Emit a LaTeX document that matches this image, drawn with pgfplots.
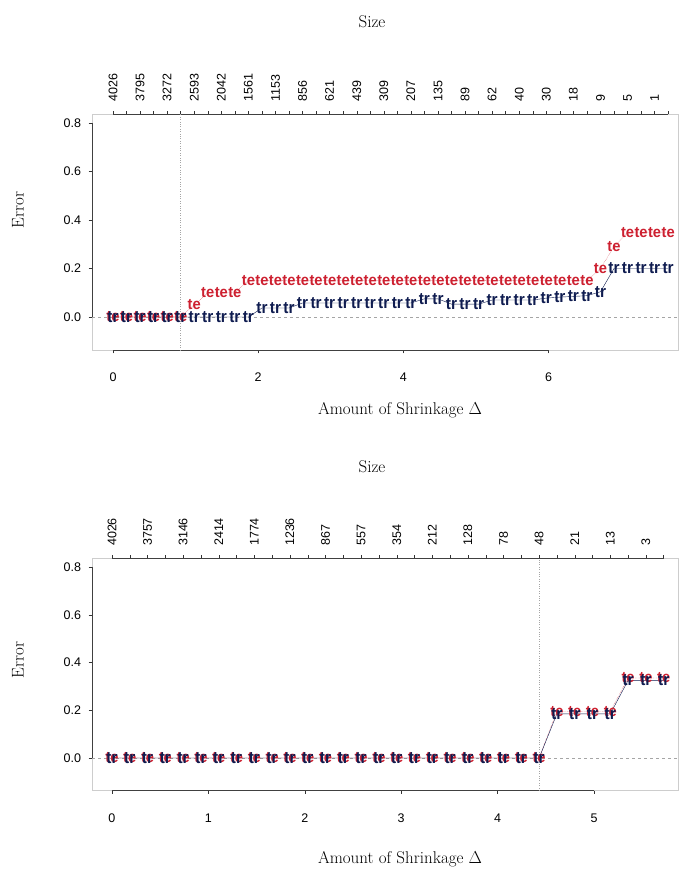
\documentclass[border=0pt]{standalone}
\usepackage{fontspec}
\setsansfont{Liberation Sans}
\usepackage{pgfplots}
\pgfplotsset{compat=1.18}
\usepackage{pgfplotstable}

\definecolor{teRed}{RGB}{205,32,48}
\definecolor{trBlue}{RGB}{15,28,80}
\definecolor{boxgray}{RGB}{205,205,205}
\definecolor{refgray}{RGB}{165,165,165}

\newcommand\tickfont{\fontsize{12.5}{12.5}\sffamily}
\newcommand\labfont{\fontsize{17}{20}\selectfont}
\newcommand\markfont{\fontsize{14}{14}\sffamily\bfseries}

% cross-validated error along the shrinkage path: test (te) and training (tr)
\pgfplotstableread{
d      te    tr
0      0     0
0.1865 0     0
0.373  0     0
0.5595 0     0
0.746  0     0
0.9325 0     0
1.119  0.05  0
1.3055 0.10  0
1.492  0.10  0
1.6785 0.10  0
1.865  0.15  0
2.0515 0.15  0.037
2.238  0.15  0.037
2.4245 0.15  0.037
2.611  0.15  0.058
2.7975 0.15  0.058
2.984  0.15  0.058
3.1705 0.15  0.058
3.357  0.15  0.058
3.5435 0.15  0.058
3.73   0.15  0.058
3.9165 0.15  0.058
4.103  0.15  0.058
4.2895 0.15  0.075
4.476  0.15  0.075
4.6625 0.15  0.053
4.849  0.15  0.053
5.0355 0.15  0.053
5.222  0.15  0.070
5.4085 0.15  0.070
5.595  0.15  0.070
5.7815 0.15  0.070
5.968  0.15  0.078
6.1545 0.15  0.082
6.341  0.15  0.085
6.5275 0.15  0.088
6.714  0.20  0.104
6.9005 0.29  0.20
7.087  0.35  0.20
7.2735 0.35  0.20
7.46   0.35  0.20
7.6465 0.35  0.20
}\cvtop

\pgfplotstableread{
d      te     tr
0      0      0
0.1846 0      0
0.3692 0      0
0.5538 0      0
0.7384 0      0
0.923  0      0
1.1076 0      0
1.2922 0      0
1.4768 0      0
1.6614 0      0
1.846  0      0
2.0306 0      0
2.2152 0      0
2.3998 0      0
2.5844 0      0
2.769  0      0
2.9536 0      0
3.1382 0      0
3.3228 0      0
3.5074 0      0
3.692  0      0
3.8766 0      0
4.0612 0      0
4.2458 0      0
4.4304 0      0
4.615  0.195  0.185
4.7996 0.195  0.185
4.9842 0.195  0.185
5.1688 0.195  0.185
5.3534 0.335  0.325
5.538  0.335  0.325
5.7226 0.335  0.325
}\cvbot

\pgfplotsset{
  panel/.style={
    scale only axis, width=586pt,
    ymin=-0.136, ymax=0.836,
    clip=false,
    axis line style={boxgray},
    tick style={black!80, thin},
    tick align=outside,
    major tick length=3.5pt,
    minor tick length=2pt,
    /pgf/number format/assume math mode=true,
    ticklabel style={font=\tickfont},
    xtick pos=bottom, ytick pos=left,
    ytick={0,0.2,0.4,0.6,0.8},
    yticklabels={0.0,0.2,0.4,0.6,0.8},
    yticklabel style={xshift=-4pt},
    xticklabel style={yshift=-16pt},
  },
  sizeaxis/.style={
    scale only axis, width=586pt,
    ymin=-0.136, ymax=0.836,
    axis x line*=top, axis y line=none,
    axis line style={draw=none},
    tick style={black!80, thin},
    tick align=outside,
    major tick length=3pt,
    minor tick length=3pt,
    xticklabel style={font=\tickfont, rotate=90, anchor=west},
    xticklabel shift=6pt,
  },
  temarks/.style={teRed, densely dotted, thin, mark=none,
    nodes near coords={\scalebox{1.05}[1.1]{te}},
    nodes near coords align=center,
    every node near coord/.append style={font=\markfont, text=teRed, inner sep=0pt, solid}},
  trmarks/.style={trBlue, thin, mark=none,
    nodes near coords={\scalebox{1.1}[1.2]{tr}},
    nodes near coords align=center,
    every node near coord/.append style={font=\markfont, text=trBlue, inner sep=0pt}},
}

\begin{document}
\begin{tikzpicture}
\useasboundingbox (0pt,0pt) rectangle (680pt,873pt);

% ---------------- upper panel ----------------
\begin{axis}[panel, at={(92pt,523pt)}, anchor=south west, height=235.7pt,
  xmin=-0.289, xmax=7.782, xtick={0,2,4,6}]
  \draw[black!75] (axis cs:0,-0.136) -- (axis cs:6,-0.136);
  \draw[black!75] (axis cs:-0.289,0) -- (axis cs:-0.289,0.8);
  \draw[black!75] (axis cs:0,0.836) -- (axis cs:7.6465,0.836);
  \addplot[refgray, dashed, thin] coordinates {(-0.289,0) (7.782,0)};
  \addplot[refgray, dotted, thin] coordinates {(0.9325,-0.136) (0.9325,0.836)};
  \addplot[temarks] table[x=d, y=te] {\cvtop};
  \addplot[trmarks] table[x=d, y=tr] {\cvtop};
\end{axis}
\begin{axis}[sizeaxis, at={(92pt,523pt)}, anchor=south west, height=235.7pt,
  xmin=-0.289, xmax=7.782,
  xtick={0,0.373,0.746,1.119,1.492,1.865,2.238,2.611,2.984,3.357,3.73,4.103,4.476,4.849,5.222,5.595,5.968,6.341,6.714,7.087,7.46},
  xticklabels={4026,3795,3272,2593,2042,1561,1153,856,621,439,309,207,135,89,62,40,30,18,9,5,1},
  minor xtick={0.1865,0.5595,0.9325,1.3055,1.6785,2.0515,2.4245,2.7975,3.1705,3.5435,3.9165,4.2895,4.6625,5.0355,5.4085,5.7815,6.1545,6.5275,6.9005,7.2735,7.6465}]
\end{axis}
\node[font=\labfont] at (372pt,851pt) {Size};
\node[font=\labfont] at (400pt,463pt) {Amount of Shrinkage $\Delta$};
\node[font=\labfont, rotate=90] at (18pt,663pt) {Error};

% ---------------- lower panel ----------------
\begin{axis}[panel, at={(92pt,82.5pt)}, anchor=south west, height=232.1pt,
  xmin=-0.207, xmax=5.871, xtick={0,1,2,3,4,5}]
  \draw[black!75] (axis cs:0,-0.136) -- (axis cs:5,-0.136);
  \draw[black!75] (axis cs:-0.207,0) -- (axis cs:-0.207,0.8);
  \draw[black!75] (axis cs:0,0.836) -- (axis cs:5.7226,0.836);
  \addplot[refgray, dashed, thin] coordinates {(-0.207,0) (5.871,0)};
  \addplot[refgray, dotted, thin] coordinates {(4.4304,-0.136) (4.4304,0.836)};
  \addplot[temarks] table[x=d, y=te] {\cvbot};
  \addplot[trmarks] table[x=d, y=tr] {\cvbot};
\end{axis}
\begin{axis}[sizeaxis, at={(92pt,82.5pt)}, anchor=south west, height=232.1pt,
  xmin=-0.207, xmax=5.871,
  xtick={0,0.3692,0.7384,1.1076,1.4768,1.846,2.2152,2.5844,2.9536,3.3228,3.692,4.0612,4.4304,4.7996,5.1688,5.538},
  xticklabels={4026,3757,3146,2414,1774,1236,867,557,354,212,128,78,48,21,13,3},
  minor xtick={0.1846,0.5538,0.923,1.2922,1.6614,2.0306,2.3998,2.769,3.1382,3.5074,3.8766,4.2458,4.615,4.9842,5.3534,5.7226}]
\end{axis}
\node[font=\labfont] at (372pt,406pt) {Size};
\node[font=\labfont] at (400pt,14pt) {Amount of Shrinkage $\Delta$};
\node[font=\labfont, rotate=90] at (18pt,213pt) {Error};
\end{tikzpicture}
\end{document}
